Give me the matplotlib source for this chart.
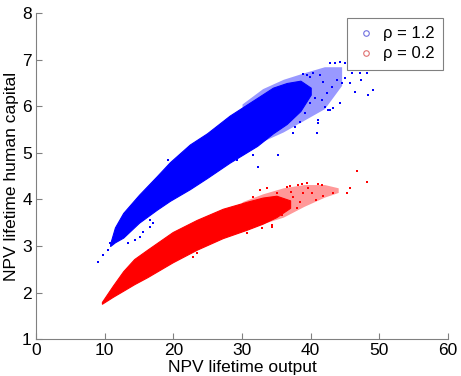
import numpy as np
import matplotlib
matplotlib.use("Agg")
import matplotlib.pyplot as plt
from matplotlib.lines import Line2D

plt.rcParams["font.family"] = ["Liberation Sans", "DejaVu Sans"]

BLUE = "#0000ff"; RED = "#ff0000"; AXIS_GREY = "#808080"

# dense core of each cloud: x, lower and upper edge
blue_core_x = [10.8, 11.5, 12.7, 15.0, 17.6, 19.5, 22.4, 24.9, 28.2, 32.2, 34.5, 36.5, 38.5, 40.0]
blue_core_up = [3.05, 3.40, 3.71, 4.10, 4.50, 4.80, 5.18, 5.42, 5.80, 6.18, 6.40, 6.50, 6.55, 6.40]
blue_core_lo = [3.00, 3.08, 3.18, 3.50, 3.78, 3.97, 4.22, 4.46, 4.79, 5.15, 5.42, 5.62, 5.90, 6.25]

red_core_x = [9.6, 11.2, 12.7, 14.3, 16.2, 19.9, 23.4, 27.2, 30.7, 33.0, 35.0, 37.0]
red_core_up = [1.80, 2.15, 2.46, 2.72, 2.92, 3.30, 3.56, 3.80, 3.95, 4.04, 4.08, 3.98]
red_core_lo = [1.76, 1.91, 2.04, 2.18, 2.33, 2.65, 2.92, 3.17, 3.35, 3.48, 3.62, 3.82]

# sparser tail beyond the dense core
blue_tail_x = [30.0, 33.0, 36.0, 39.0, 42.0, 44.5]
blue_tail_up = [6.05, 6.38, 6.58, 6.72, 6.85, 6.85]
blue_tail_lo = [4.95, 5.25, 5.45, 5.70, 5.95, 6.45]

red_tail_x = [30.0, 33.0, 36.0, 39.0, 42.0, 44.0]
red_tail_up = [3.95, 4.12, 4.25, 4.32, 4.32, 4.25]
red_tail_lo = [3.33, 3.48, 3.62, 3.85, 4.05, 4.15]

# scattered points outside the dense core
blue_x = [9.0, 9.8, 10.5, 10.8, 11.5, 13.4, 14.4, 15.1, 11.9, 15.6, 16.6, 17.0,
          16.6, 18.5, 21.0, 22.4, 29.3, 31.6, 32.3, 35.2, 19.2,
          37.4, 37.7, 38.4, 39.2, 39.9, 40.6, 41.6, 38.9, 39.4, 39.9, 40.3, 41.3,
          41.8, 42.4, 43.1, 45.7, 45.0, 43.8, 44.5, 40.9, 41.0, 42.1, 42.5, 43.2,
          44.3, 42.8, 43.5, 44.3, 45.0, 45.4, 46.0, 47.2, 47.3, 48.2, 48.9, 49.6,
          46.4, 48.3, 49.1, 41.0, 42.8]
blue_y = [2.66, 2.81, 2.91, 3.06, 3.13, 3.06, 3.13, 3.19, 3.28, 3.30, 3.41, 3.49,
          3.56, 3.92, 4.16, 4.52, 4.85, 4.95, 4.70, 4.95, 4.85,
          5.42, 5.55, 5.66, 5.85, 6.07, 6.18, 6.13, 6.69, 6.67, 6.63, 6.71, 6.67,
          6.52, 6.28, 6.41, 6.50, 6.61, 6.56, 6.50, 5.42, 5.64, 5.98, 5.92, 5.96,
          6.07, 6.93, 6.93, 6.95, 6.93, 6.82, 6.71, 6.71, 6.56, 6.71, 6.78, 6.80,
          6.30, 6.24, 6.35, 5.70, 5.92]

red_x = [22.9, 23.4, 30.7, 31.6, 32.6, 32.9, 33.6, 34.4, 35.1, 34.4, 34.5, 35.1,
         35.8, 36.0, 36.5, 37.0, 37.1, 37.4, 38.0, 38.1, 38.4, 38.7, 38.9, 39.4,
         39.6, 40.2, 40.8, 41.0, 41.6, 41.8, 43.2, 45.3, 45.7, 46.7, 48.2]
red_y = [2.76, 2.85, 3.28, 4.05, 4.20, 3.39, 4.24, 3.41, 4.14, 3.45, 3.60, 3.73,
         3.67, 3.77, 4.27, 4.29, 4.16, 4.05, 3.82, 4.31, 3.94, 4.33, 4.14, 4.35,
         4.24, 4.14, 3.99, 4.33, 4.31, 4.07, 4.14, 4.14, 4.24, 4.61, 4.37]

x_ticks = [0, 10, 20, 30, 40, 50, 60]
y_ticks = [1, 2, 3, 4, 5, 6, 7, 8]


def draw_cloud(ax, tail, core, px, py, color):
    ax.fill_between(*tail, color=color, alpha=0.4, lw=0)
    ax.fill_between(*core, facecolor=color, edgecolor=color, lw=0.8)
    ax.scatter(px, py, s=1.5, marker="s", color=color, lw=0)


fig = plt.figure(figsize=(4.61, 3.76), dpi=100)
ax = fig.add_axes([0.078, 0.098, 0.894, 0.867])

draw_cloud(ax, (blue_tail_x, blue_tail_lo, blue_tail_up),
           (blue_core_x, blue_core_lo, blue_core_up), blue_x, blue_y, BLUE)
draw_cloud(ax, (red_tail_x, red_tail_lo, red_tail_up),
           (red_core_x, red_core_lo, red_core_up), red_x, red_y, RED)

ax.set_xlim(0, 60); ax.set_ylim(1, 8)
ax.set_xticks(x_ticks); ax.set_yticks(y_ticks)
for s in ("top", "right"):
    ax.spines[s].set_visible(False)
for s in ("left", "bottom"):
    ax.spines[s].set_color(AXIS_GREY)
ax.tick_params(direction="in", length=4, color=AXIS_GREY, labelsize=12.5, pad=3)
ax.set_xlabel("NPV lifetime output", fontsize=12.5, labelpad=1)
ax.set_ylabel("NPV lifetime human capital", fontsize=12.5, labelpad=2)

handles = [Line2D([], [], ls="none", marker="o", ms=4, mfc="none", mec="#7070e0", mew=0.8),
           Line2D([], [], ls="none", marker="o", ms=4, mfc="none", mec="#e07070", mew=0.8)]
leg = ax.legend(handles, ["ρ = 1.2", "ρ = 0.2"], loc="upper right", bbox_to_anchor=(0.988, 0.985),
                borderaxespad=0, fontsize=12, fancybox=False, framealpha=1, edgecolor=AXIS_GREY,
                handlelength=1.2, handletextpad=0.45, borderpad=0.5, labelspacing=0.3)
leg.get_frame().set_linewidth(0.8)

fig.savefig("out.png", dpi=100)
